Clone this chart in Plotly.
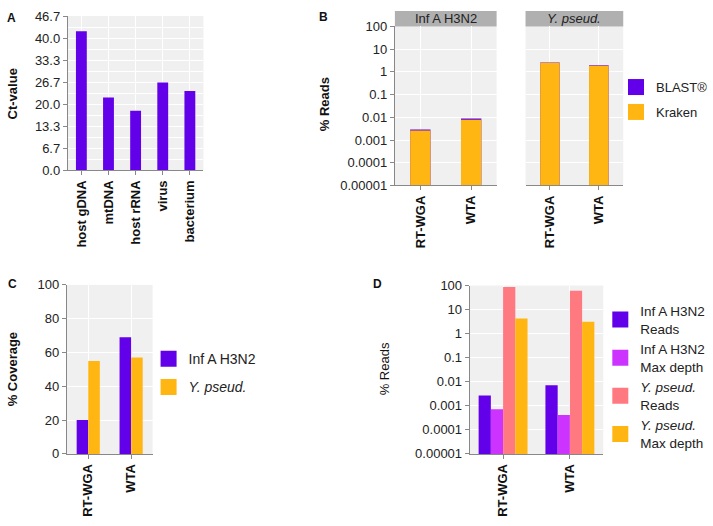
import plotly.graph_objects as go

W, H = 713, 526
FONT = "Liberation Sans, Arial, sans-serif"
PURPLE = "#6200ea"
MAGENTA = "#cc33ff"
SALMON = "#ff7a80"
ORANGE = "#ffb612"
BG = "#f0f0f0"

# ---------- data ----------
a_categories = ["host gDNA", "mtDNA", "host rRNA", "virus", "bacterium"]
a_ct_values = [42.1, 22.0, 18.0, 26.6, 24.0]
a_ticks = [0.0, 6.7, 13.3, 20.0, 26.7, 33.3, 40.0, 46.7]

methods = ["RT-WGA", "WTA"]
b_inf_blast = [0.0029, 0.0088]
b_inf_kraken = [0.0026, 0.0079]
b_yp_blast = [2.6, 1.95]
b_yp_kraken = [2.5, 1.85]
log_ticks = [0.00001, 0.0001, 0.001, 0.01, 0.1, 1, 10, 100]
log_ticklabels = ["0.00001", "0.0001", "0.001", "0.01", "0.1", "1", "10", "100"]

c_inf = [20, 69]
c_yp = [55, 57]
c_ticks = [0, 20, 40, 60, 80, 100]

d_inf_reads = [0.00266, 0.0072]
d_inf_depth = [0.00072, 0.00041]
d_yp_reads = [86, 61]
d_yp_depth = [4.3, 3.1]


def px(x):
    return x / W


def py(y):
    return 1 - y / H


fig = go.Figure()


def legend_entry(name, color, legend, group, xa, ya):
    # legend-only swatch (large square), the bars themselves carry no legend entry
    fig.add_trace(go.Scatter(x=[None], y=[None], mode="markers", name=name,
                             marker=dict(symbol="square", size=16, color=color),
                             legend=legend, legendgroup=group, xaxis=xa, yaxis=ya,
                             hoverinfo="skip"))


# ---------- Panel A ----------
fig.add_trace(go.Bar(x=a_categories, y=a_ct_values, marker_color=PURPLE,
                     marker_line_width=0, width=0.4, offset=-0.2,
                     showlegend=False, xaxis="x", yaxis="y"))

# ---------- Panel B ----------
fig.add_trace(go.Bar(x=methods, y=b_inf_blast, name="BLAST®", marker_color=PURPLE,
                     marker_line_width=0, width=0.4, offset=-0.2, offsetgroup="b",
                     showlegend=False, xaxis="x2", yaxis="y2"))
fig.add_trace(go.Bar(x=methods, y=b_inf_kraken, name="Kraken", marker_color=ORANGE,
                     marker_line_width=0, width=0.4, offset=-0.2, offsetgroup="b",
                     showlegend=False, xaxis="x2", yaxis="y2"))
fig.add_trace(go.Bar(x=methods, y=b_yp_blast, name="BLAST®", marker_color=PURPLE,
                     marker_line_width=0, width=0.4, offset=-0.2, offsetgroup="b",
                     showlegend=False, xaxis="x3", yaxis="y3"))
fig.add_trace(go.Bar(x=methods, y=b_yp_kraken, name="Kraken", marker_color=ORANGE,
                     marker_line_width=0, width=0.4, offset=-0.2, offsetgroup="b",
                     showlegend=False, xaxis="x3", yaxis="y3"))
legend_entry("BLAST®", PURPLE, "legend", "b1", "x2", "y2")
legend_entry("Kraken", ORANGE, "legend", "b2", "x2", "y2")

# ---------- Panel C ----------
fig.add_trace(go.Bar(x=methods, y=c_inf, name="Inf A H3N2", marker_color=PURPLE,
                     marker_line_width=0, width=0.27, offset=-0.27,
                     showlegend=False, xaxis="x4", yaxis="y4"))
fig.add_trace(go.Bar(x=methods, y=c_yp, name="Y. pseud.", marker_color=ORANGE,
                     marker_line_width=0, width=0.27, offset=0.0,
                     showlegend=False, xaxis="x4", yaxis="y4"))
legend_entry("Inf A H3N2", PURPLE, "legend2", "c1", "x4", "y4")
legend_entry("<i>Y. pseud.</i>", ORANGE, "legend2", "c2", "x4", "y4")

# ---------- Panel D ----------
dw = 0.183
d_series = [
    (d_inf_reads, "Inf A H3N2<br>Reads", PURPLE),
    (d_inf_depth, "Inf A H3N2<br>Max depth", MAGENTA),
    (d_yp_reads, "<i>Y. pseud.</i><br>Reads", SALMON),
    (d_yp_depth, "<i>Y. pseud.</i><br>Max depth", ORANGE),
]
for i, (vals, nm, col) in enumerate(d_series):
    fig.add_trace(go.Bar(x=methods, y=vals, name=nm, marker_color=col,
                         marker_line_width=0, width=dw, offset=-2 * dw + i * dw,
                         showlegend=False, xaxis="x5", yaxis="y5"))
for i, (vals, nm, col) in enumerate(d_series):
    legend_entry(nm, col, "legend3", f"d{i}", "x5", "y5")

tickfont = dict(family=FONT, size=13, color="#222")
boldx = dict(family=FONT, size=13, color="#111")

common_x = dict(type="category", showgrid=True, gridcolor="white", gridwidth=1,
                showline=True, linecolor="#888", linewidth=1, ticks="outside",
                ticklen=4, tickcolor="#888", tickangle=-90, tickfont=boldx,
                zeroline=False)
common_y = dict(showgrid=True, gridcolor="white", gridwidth=1, showline=True,
                linecolor="#888", linewidth=1, ticks="outside", ticklen=4,
                tickcolor="#888", tickfont=tickfont, zeroline=False)

fig.update_layout(
    width=W, height=H, margin=dict(l=0, r=0, t=0, b=0),
    paper_bgcolor="white", plot_bgcolor=BG,
    font=dict(family=FONT, color="#222"),
    barmode="group",
    xaxis=dict(common_x, domain=[px(68), px(204)], anchor="y",
               tickvals=a_categories, ticktext=[f"<b>{c}</b>" for c in a_categories]),
    yaxis=dict(common_y, domain=[py(168), py(9.3)], anchor="x", range=[0, 46.7],
               tickvals=a_ticks, ticktext=[f"{t:.1f}" for t in a_ticks],
               minor=dict(tickvals=[(a_ticks[i] + a_ticks[i + 1]) / 2 for i in range(len(a_ticks) - 1)],
                          showgrid=True, gridcolor="white", ticks="")),
    xaxis2=dict(common_x, domain=[px(396), px(498)], anchor="y2",
                tickvals=methods, ticktext=[f"<b>{m}</b>" for m in methods]),
    yaxis2=dict(common_y, type="log", domain=[py(183.7), py(20)], anchor="x2",
                range=[-5, 2], tickvals=log_ticks, ticktext=log_ticklabels),
    xaxis3=dict(common_x, domain=[px(527), px(625)], anchor="y3",
                tickvals=methods, ticktext=[f"<b>{m}</b>" for m in methods]),
    yaxis3=dict(common_y, type="log", domain=[py(183.7), py(20)], anchor="x3",
                range=[-5, 2], tickvals=log_ticks, showticklabels=False,
                showline=False, ticks=""),
    xaxis4=dict(common_x, domain=[px(67), px(153)], anchor="y4",
                tickvals=methods, ticktext=[f"<b>{m}</b>" for m in methods]),
    yaxis4=dict(common_y, domain=[py(460), py(286)], anchor="x4", range=[0, 100],
                tickvals=c_ticks),
    xaxis5=dict(common_x, domain=[px(471), px(605)], anchor="y5",
                tickvals=methods, ticktext=[f"<b>{m}</b>" for m in methods]),
    yaxis5=dict(common_y, type="log", domain=[py(460), py(286.7)], anchor="x5",
                range=[-5, 2], tickvals=log_ticks, ticktext=log_ticklabels),
    legend=dict(x=px(618), y=py(67), xanchor="left", yanchor="top",
                font=dict(family=FONT, size=13, color="#222"), bgcolor="rgba(0,0,0,0)",
                tracegroupgap=5, itemwidth=30),
    legend2=dict(x=px(149), y=py(346), xanchor="left", yanchor="top",
                 font=dict(family=FONT, size=14, color="#222"), bgcolor="rgba(0,0,0,0)",
                 tracegroupgap=7, itemwidth=30),
    legend3=dict(x=px(602), y=py(297), xanchor="left", yanchor="top",
                 font=dict(family=FONT, size=13.5, color="#222"), bgcolor="rgba(0,0,0,0)",
                 tracegroupgap=0, itemwidth=30),
)

# facet strips for panel B
strips = [(396, 498, "Inf A H3N2"), (527, 625, "<i>Y. pseud.</i>")]
for x0, x1, label in strips:
    fig.add_shape(type="rect", xref="paper", yref="paper", x0=px(x0), x1=px(x1),
                  y0=py(20), y1=py(4), fillcolor="#b0b0b0", line_width=0, layer="below")
    fig.add_annotation(xref="paper", yref="paper", x=px((x0 + x1) / 2), y=py(12),
                       text=label, showarrow=False, xanchor="center", yanchor="middle",
                       font=dict(family=FONT, size=13, color="#222"))

# panel letters
for letter, x, y in [("A", 12, 11), ("B", 324, 10), ("C", 13, 285), ("D", 379, 285)]:
    fig.add_annotation(xref="paper", yref="paper", x=px(x), y=py(y), text=f"<b>{letter}</b>",
                       showarrow=False, xanchor="center", yanchor="middle",
                       font=dict(family=FONT, size=12, color="#111"))

# y-axis titles
for text, x, y in [("<b>Ct-value</b>", 12, 89), ("<b>% Reads</b>", 325, 100),
                   ("<b>% Coverage</b>", 12, 373), ("% Reads", 385, 372)]:
    fig.add_annotation(xref="paper", yref="paper", x=px(x), y=py(y), text=text,
                       textangle=-90, showarrow=False, xanchor="center", yanchor="middle",
                       font=dict(family=FONT, size=13, color="#111"))

fig.write_html("out.html", config={"displayModeBar": False},
               post_script="document.body.style.margin='0';document.body.style.padding='0';")
